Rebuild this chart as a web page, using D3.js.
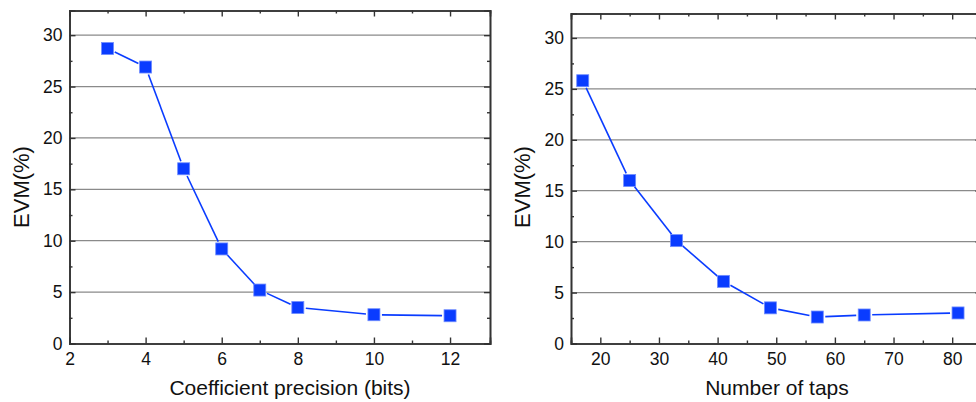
<!DOCTYPE html>
<html>
<head>
<meta charset="utf-8">
<script src="https://cdn.jsdelivr.net/npm/d3@7"></script>
<style>
  body { margin: 0; background: #fff; }
  svg { display: block; font-family: "Liberation Sans", Arial, sans-serif; }
</style>
</head>
<body>
<div id="chart"></div>
<script>
// left panel: coefficient precision
const bits = [3, 4, 5, 6, 7, 8, 10, 12];
const evmBits = [28.7, 26.9, 17.0, 9.2, 5.2, 3.5, 2.8, 2.7];
// right panel: number of taps
const taps = [17, 25, 33, 41, 49, 57, 65, 81];
const evmTaps = [25.8, 16.0, 10.1, 6.1, 3.5, 2.6, 2.8, 3.0];

const yTicks = [0, 5, 10, 15, 20, 25, 30];
const yMinor = [2.5, 7.5, 12.5, 17.5, 22.5, 27.5];
const bitsTicks = [2, 4, 6, 8, 10, 12];
const bitsMinor = [3, 5, 7, 9, 11];
const tapsTicks = [20, 30, 40, 50, 60, 70, 80];
const tapsMinor = [25, 35, 45, 55, 65, 75];

const W = 976, H = 402;
const blue = "#0a3cff";

const svg = d3.select("#chart").append("svg")
  .attr("width", W).attr("height", H);

function panel(opt) {
  const x = d3.scaleLinear().domain(opt.xDomain).range([opt.left, opt.right]);
  const y = d3.scaleLinear().domain([0, 32.4]).range([343.5, 10.5 + opt.dy]);
  const g = svg.append("g");

  // grid
  g.selectAll("line.grid")
    .data(yTicks.filter(d => d > 0))
    .enter().append("line")
    .attr("x1", opt.left).attr("x2", opt.right)
    .attr("y1", d => y(d)).attr("y2", d => y(d))
    .attr("stroke", "#8a8a8a").attr("stroke-width", 1.2);

  // axes, ticks pointing inward
  const axB = g.append("g").attr("transform", `translate(0,${y(0)})`)
    .call(d3.axisBottom(x).tickValues(opt.xTicks).tickSize(-6).tickPadding(9.5).tickFormat(d3.format("d")));
  const axBm = g.append("g").attr("transform", `translate(0,${y(0)})`)
    .call(d3.axisBottom(x).tickValues(opt.xMinor).tickSize(-3).tickFormat(""));
  const axT = g.append("g").attr("transform", `translate(0,${y.range()[1]})`)
    .call(d3.axisTop(x).tickValues(opt.xTicks).tickSize(-6).tickFormat(""));
  const axTm = g.append("g").attr("transform", `translate(0,${y.range()[1]})`)
    .call(d3.axisTop(x).tickValues(opt.xMinor).tickSize(-3).tickFormat(""));
  const axL = g.append("g").attr("transform", `translate(${opt.left},0)`)
    .call(d3.axisLeft(y).tickValues(yTicks).tickSize(-6).tickPadding(7));
  const axLm = g.append("g").attr("transform", `translate(${opt.left},0)`)
    .call(d3.axisLeft(y).tickValues(yMinor).tickSize(-3).tickFormat(""));
  const axR = g.append("g").attr("transform", `translate(${opt.right},0)`)
    .call(d3.axisRight(y).tickValues(yTicks).tickSize(-6).tickFormat(""));
  const axRm = g.append("g").attr("transform", `translate(${opt.right},0)`)
    .call(d3.axisRight(y).tickValues(yMinor).tickSize(-3).tickFormat(""));

  [axB, axBm, axT, axTm, axL, axLm, axR, axRm].forEach(a => {
    a.select(".domain").attr("stroke", "#333").attr("stroke-width", 1.6);
    a.selectAll(".tick line").attr("stroke", "#333").attr("stroke-width", 1.4);
    a.selectAll(".tick text").attr("fill", "#111").style("font-size", "17.5px");
  });

  // line segments with small gaps near the markers
  const pts = opt.xs.map((d, i) => [x(d), y(opt.ys[i])]);
  const gap = 8;
  for (let i = 0; i < pts.length - 1; i++) {
    const [x1, y1] = pts[i], [x2, y2] = pts[i + 1];
    const len = Math.hypot(x2 - x1, y2 - y1);
    if (len < 2 * gap) continue;
    const ux = (x2 - x1) / len, uy = (y2 - y1) / len;
    g.append("line")
      .attr("x1", x1 + ux * gap).attr("y1", y1 + uy * gap)
      .attr("x2", x2 - ux * gap).attr("y2", y2 - uy * gap)
      .attr("stroke", blue).attr("stroke-width", 1.6);
  }

  g.selectAll("rect.pt")
    .data(opt.xs)
    .enter().append("rect")
    .attr("x", (d) => x(d) - 6)
    .attr("y", (d, i) => y(opt.ys[i]) - 6)
    .attr("width", 12).attr("height", 12)
    .attr("fill", blue)
    .attr("stroke", "#6f8cff").attr("stroke-width", 0.8);

  // axis titles
  g.append("text")
    .attr("x", opt.titleX)
    .attr("y", 395)
    .attr("text-anchor", "middle")
    .style("font-size", "21px").attr("fill", "#111")
    .text(opt.xTitle);
  g.append("text")
    .attr("transform", `translate(${opt.yTitleX},187) rotate(-90)`)
    .attr("text-anchor", "middle")
    .style("font-size", "22px").attr("fill", "#111")
    .text("EVM(%)");
}

panel({
  xs: bits, ys: evmBits,
  xDomain: [2, 13.05], left: 69.5, right: 490,
  xTicks: bitsTicks, xMinor: bitsMinor,
  xTitle: "Coefficient precision (bits)", titleX: 290, yTitleX: 29, dy: 0
});

panel({
  xs: taps, ys: evmTaps,
  xDomain: [15, 85], left: 571, right: 981.5,
  xTicks: tapsTicks, xMinor: tapsMinor,
  xTitle: "Number of taps", titleX: 777, yTitleX: 530, dy: 3
});
</script>
</body>
</html>
